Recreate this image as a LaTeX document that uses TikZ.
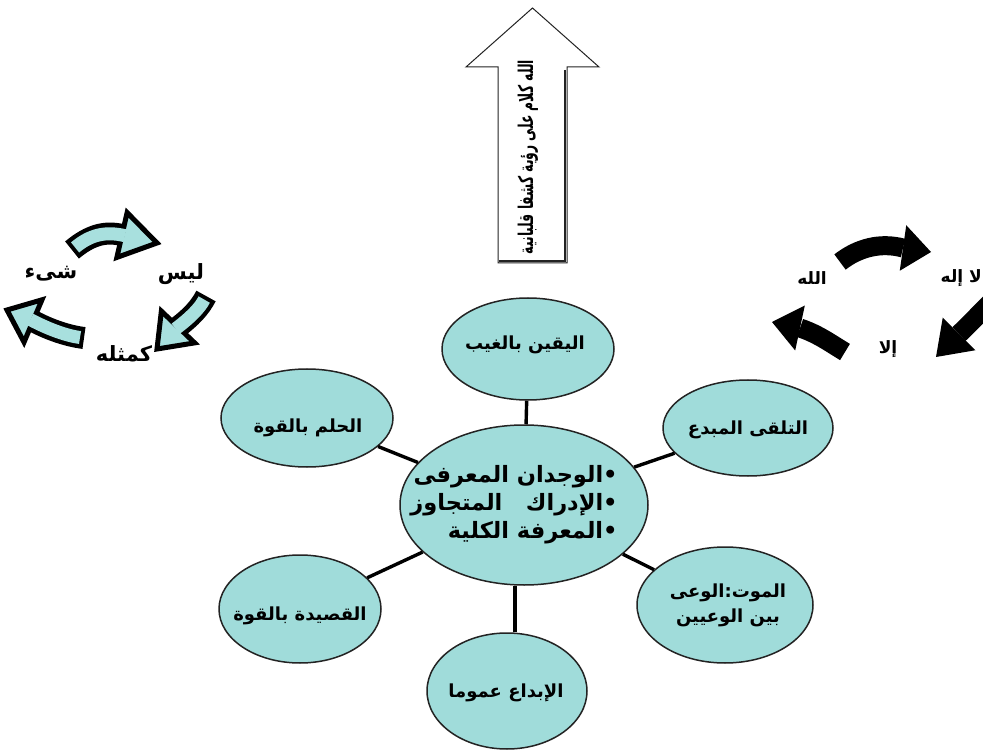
\documentclass[tikz,border=0pt]{standalone}
\usepackage{fontspec}
\usepackage{graphicx}
\usetikzlibrary{shapes.geometric,calc}
\newfontfamily\ar[Script=Arabic]{DejaVu Sans}
\TeXXeTstate=1
\definecolor{bubble}{RGB}{160,220,218}
\definecolor{cyclefill}{RGB}{168,224,222}
\definecolor{rim}{RGB}{35,35,35}

% curved arrow with a light body and a black rim: tail, two controls, head base, tip
\newcommand\outlinedarrow[5]{%
  \draw[line width=22pt, black] #1 .. controls #2 and #3 .. #4;
  \filldraw[fill=cyclefill, draw=black, line width=5pt, line join=miter]
    ($#4!23pt!90:#5$) -- #5 -- ($#4!23pt!-90:#5$) -- cycle;
  \draw[line width=13pt, cyclefill, shorten <=4pt, shorten >=-3pt]
    #1 .. controls #2 and #3 .. #4;
}
% curved solid black arrow: tail, two controls, head base, tip
\newcommand\solidarrow[5]{%
  \draw[line width=19pt, black] #1 .. controls #2 and #3 .. #4;
  \fill[black] ($#4!23pt!90:#5$) -- #5 -- ($#4!23pt!-90:#5$) -- cycle;
}

\begin{document}
\begin{tikzpicture}[x=1pt,y=-1pt,
  bubble/.style={ellipse, draw=rim, line width=1.5pt, fill=bubble, inner sep=0pt},
  bubbletext/.style={inner sep=0pt, align=center, font=\ar\bfseries\fontsize{18}{25}\selectfont},
  spoke/.style={line width=3.4pt, black},
  bigword/.style={font=\ar\bfseries\fontsize{21}{24}\selectfont, inner sep=0pt},
  smallword/.style={font=\ar\bfseries\fontsize{17}{20}\selectfont, inner sep=0pt}]

\useasboundingbox (0,0) rectangle (983,751);
\fill[white] (0,0) rectangle (983,751);

% upward block arrow with its vertical caption
\draw[rim, line width=1pt, fill=white, line join=miter]
  (532.5,8) -- (599,67) -- (567,67) -- (567,263) -- (498,263) -- (498,67) -- (466,67) -- cycle;
\draw[rim, line width=2.6pt] (565,70) -- (565,261) -- (499,261);
\node[rotate=90, inner sep=0pt, font=\ar\bfseries\fontsize{14}{16}\selectfont] (motto) at (528,157)
  {\scalebox{0.88}[1.45]{\beginR الله كلام على رؤية كشفا قلبانية\endR}};

% left cycle
\outlinedarrow{(72,250)}{(90,235)}{(105,231)}{(122,235)}{(157,243)}
\outlinedarrow{(206,296)}{(200,308)}{(190,318)}{(178,327)}{(157,349)}
\outlinedarrow{(84,338)}{(68,336)}{(50,330)}{(33,321)}{(7,310)}
\node[bigword] (lays) at (181,274) {\beginR ليس\endR};
\node[bigword] (shay) at (51,274) {\beginR شىء\endR};
\node[bigword] (kamithlihi) at (124,354) {\beginR كمثله\endR};

% right cycle
\solidarrow{(840,262)}{(858,248)}{(880,242)}{(903,248)}{(931,252)}
\solidarrow{(998,296)}{(987,305)}{(972,322)}{(959,334)}{(936,357)}
\solidarrow{(845,352)}{(830,343)}{(818,334)}{(800,328)}{(772,322)}
\node[smallword] (allah) at (812,278) {\beginR الله\endR};
\node[smallword, anchor=east] (lailah) at (982,278) {\beginR لا إله\endR};
\node[smallword] (illa) at (888,349) {\beginR إلا\endR};

% central idea and its six satellites
\node[bubble, minimum width=248pt, minimum height=160pt] (c)  at (524,505) {};
\node[bubble, minimum width=172pt, minimum height=102pt] (t)  at (528,349) {};
\node[bubble, minimum width=172pt, minimum height=98pt]  (lt) at (307,418) {};
\node[bubble, minimum width=170pt, minimum height=96pt]  (rt) at (748,428) {};
\node[bubble, minimum width=176pt, minimum height=116pt] (rb) at (725,605) {};
\node[bubble, minimum width=162pt, minimum height=108pt] (lb) at (300,609) {};
\node[bubble, minimum width=160pt, minimum height=116pt] (b)  at (507,691) {};

\node[bubbletext, align=right, font=\ar\bfseries\fontsize{22.5}{28}\selectfont] (c-text) at (514,505)
  {\beginR•الوجدان المعرفى\endR\\ \beginR•الإدراك\ \ \ المتجاوز\endR\\ \beginR•المعرفة الكلية\endR};
\node[bubbletext] (t-text)  at (525,345) {\beginR اليقين بالغيب\endR};
\node[bubbletext] (lt-text) at (308,428) {\beginR الحلم بالقوة\endR};
\node[bubbletext] (rt-text) at (748,430) {\beginR التلقى المبدع\endR};
\node[bubbletext] (rb-text) at (728,605) {\beginR الموت:الوعى\endR\\ \beginR بين الوعيين\endR};
\node[bubbletext] (lb-text) at (300,616) {\beginR القصيدة بالقوة\endR};
\node[bubbletext] (b-text)  at (506,693) {\beginR الإبداع عموما\endR};

\draw[spoke] (t) -- (c);
\draw[spoke] (lt) -- (c);
\draw[spoke] (rt) -- (c);
\draw[spoke] (lb) -- (c);
\draw[spoke] (rb) -- (c);
\draw[spoke] ([xshift=-9pt]c.south) -- ([xshift=8pt]b.north);
\end{tikzpicture}
\end{document}
